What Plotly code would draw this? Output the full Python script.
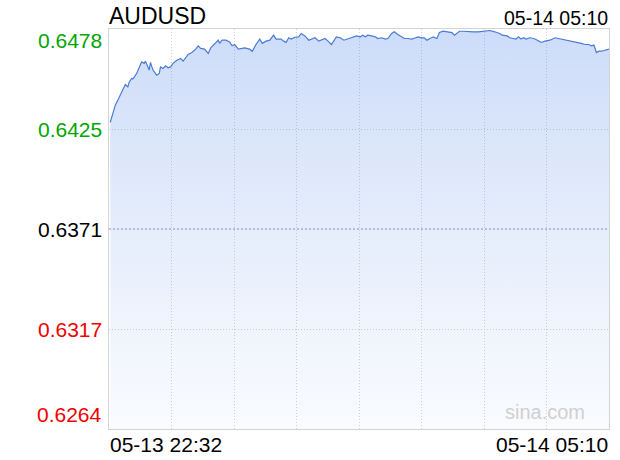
import plotly.graph_objects as go

# ---- data ----
symbol = "AUDUSD"
start_label = "05-13 22:32"
end_label = "05-14 05:10"
total_minutes = 398  # 22:32 -> 05:10

minutes = [1, 3, 5, 7, 10, 11, 13, 15, 16, 18, 19, 22, 25, 26, 28, 29, 31, 32, 33, 35,
           38, 40, 41, 43, 45, 47, 49, 51, 54, 57, 59, 63, 66, 69, 71, 73, 76, 79, 81, 84,
           87, 88, 90, 93, 96, 98, 100, 103, 106, 108, 112, 114, 117, 120, 122, 125, 128, 131, 133, 137,
           139, 141, 143, 145, 148, 151, 153, 156, 159, 161, 164, 167, 169, 172, 175, 177, 181, 184, 187, 190,
           194, 197, 200, 202, 204, 206, 209, 212, 214, 217, 220, 222, 225, 227, 230, 232, 235, 238, 241, 244,
           246, 249, 251, 253, 256, 258, 261, 263, 266, 270, 273, 275, 279, 282, 286, 290, 294, 298, 303, 307,
           311, 313, 317, 319, 322, 324, 326, 328, 330, 332, 335, 338, 341, 344, 347, 351, 355, 358, 362, 365,
           368, 372, 376, 379, 382, 384, 386, 388, 390, 392, 395, 398]

prices = [0.64281, 0.64334, 0.64373, 0.64400, 0.64445, 0.64463, 0.64484, 0.64471, 0.64495, 0.64516,
          0.64513, 0.64543, 0.64587, 0.64605, 0.64597, 0.64609, 0.64578, 0.64561, 0.64602, 0.64561,
          0.64534, 0.64543, 0.64578, 0.64570, 0.64584, 0.64573, 0.64578, 0.64597, 0.64614, 0.64623,
          0.64609, 0.64645, 0.64655, 0.64673, 0.64691, 0.64677, 0.64673, 0.64650, 0.64680, 0.64698,
          0.64721, 0.64704, 0.64721, 0.64721, 0.64712, 0.64691, 0.64698, 0.64673, 0.64677, 0.64680,
          0.64673, 0.64662, 0.64698, 0.64727, 0.64704, 0.64716, 0.64721, 0.64748, 0.64727, 0.64727,
          0.64716, 0.64709, 0.64734, 0.64727, 0.64737, 0.64739, 0.64757, 0.64744, 0.64721, 0.64727,
          0.64734, 0.64716, 0.64721, 0.64730, 0.64712, 0.64698, 0.64739, 0.64734, 0.64721, 0.64727,
          0.64734, 0.64744, 0.64739, 0.64748, 0.64739, 0.64748, 0.64744, 0.64739, 0.64730, 0.64734,
          0.64727, 0.64730, 0.64757, 0.64766, 0.64752, 0.64744, 0.64730, 0.64730, 0.64727, 0.64734,
          0.64739, 0.64734, 0.64734, 0.64721, 0.64734, 0.64739, 0.64730, 0.64762, 0.64769, 0.64766,
          0.64762, 0.64748, 0.64769, 0.64769, 0.64766, 0.64766, 0.64766, 0.64769, 0.64773, 0.64766,
          0.64757, 0.64748, 0.64744, 0.64734, 0.64730, 0.64727, 0.64739, 0.64727, 0.64734, 0.64727,
          0.64734, 0.64730, 0.64721, 0.64709, 0.64716, 0.64721, 0.64734, 0.64730, 0.64721, 0.64721,
          0.64716, 0.64709, 0.64704, 0.64698, 0.64698, 0.64691, 0.64695, 0.64655, 0.64662, 0.64662,
          0.64666, 0.64673]

prev_close = 0.63710
y_levels = [0.64781, 0.642455, 0.63710, 0.631745, 0.62639]
y_labels = ["0.6478", "0.6425", "0.6371", "0.6317", "0.6264"]
y_label_colors = ["#00a600", "#00a600", "#000000", "#f00000", "#f00000"]

FONT = "Liberation Sans, Arial, sans-serif"

fig = go.Figure()
fig.add_trace(go.Scatter(
    x=minutes, y=prices, mode="lines",
    line=dict(color="#4a7bd4", width=1.2),
    fill="tozeroy",
    fillgradient=dict(
        type="vertical",
        start=y_levels[-1], stop=y_levels[0],
        colorscale=[[0, "rgba(60,120,230,0.03)"], [0.5, "rgba(60,120,230,0.13)"], [1, "rgba(60,120,230,0.26)"]],
    ),
    hoverinfo="skip", showlegend=False,
))

# previous close dashed line
fig.add_shape(type="line", xref="paper", x0=0, x1=1, yref="y", y0=prev_close, y1=prev_close,
              line=dict(color="rgba(120,120,170,0.85)", width=1, dash="2px,2px"))

grid_x = [total_minutes * i / 8 for i in range(9)]

fig.update_xaxes(range=[0, total_minutes], tickvals=grid_x, showticklabels=False,
                 showgrid=True, gridcolor="#d2d2da", griddash="1px,2px", gridwidth=1,
                 showline=True, mirror=True, linecolor="#d4d4d4", linewidth=1,
                 zeroline=False, ticks="")
fig.update_yaxes(range=[y_levels[-1], y_levels[0]],
                 tickvals=[v for v in y_levels if v != prev_close], showticklabels=False,
                 showgrid=True, gridcolor="#d2d2da", griddash="1px,2px", gridwidth=1,
                 showline=True, mirror=True, linecolor="#d4d4d4", linewidth=1,
                 zeroline=False, ticks="")

annotations = []
shifts = [-11, 0, 0, 0, 15]
for v, lab, col, sh in zip(y_levels, y_labels, y_label_colors, shifts):
    annotations.append(dict(xref="paper", x=0, xanchor="right", xshift=-5,
                            yref="y", y=v, yanchor="middle", yshift=sh,
                            text=lab, showarrow=False,
                            font=dict(family=FONT, size=21, color=col)))
# x-axis end labels
annotations.append(dict(xref="paper", x=0, xanchor="left", xshift=-1, yref="paper", y=0, yanchor="top",
                        yshift=-2, text=start_label, showarrow=False,
                        font=dict(family=FONT, size=21, color="#000")))
annotations.append(dict(xref="paper", x=1, xanchor="right", xshift=1, yref="paper", y=0, yanchor="top",
                        yshift=-2, text=end_label, showarrow=False,
                        font=dict(family=FONT, size=21, color="#000")))
# title & time
annotations.append(dict(xref="paper", x=0, xanchor="left", xshift=-2, yref="paper", y=1, yanchor="bottom",
                        yshift=-2, text=symbol, showarrow=False,
                        font=dict(family=FONT, size=23, color="#000")))
annotations.append(dict(xref="paper", x=1, xanchor="right", xshift=1, yref="paper", y=1, yanchor="bottom",
                        yshift=-2, text=end_label, showarrow=False,
                        font=dict(family=FONT, size=19.5, color="#000")))
# watermark
annotations.append(dict(xref="paper", x=1, xanchor="right", xshift=-22, yref="paper", y=0, yanchor="bottom",
                        yshift=4, text="sina.com", showarrow=False,
                        font=dict(family=FONT, size=20, color="#d0d0d0")))

fig.update_layout(width=620, height=460,
                  margin=dict(l=109, r=11, t=29, b=31),
                  paper_bgcolor="white", plot_bgcolor="white",
                  annotations=annotations, showlegend=False)

fig.write_html("out.html", config={"displayModeBar": False, "staticPlot": True},
               post_script="document.body.style.margin='0';document.body.style.padding='0';")
